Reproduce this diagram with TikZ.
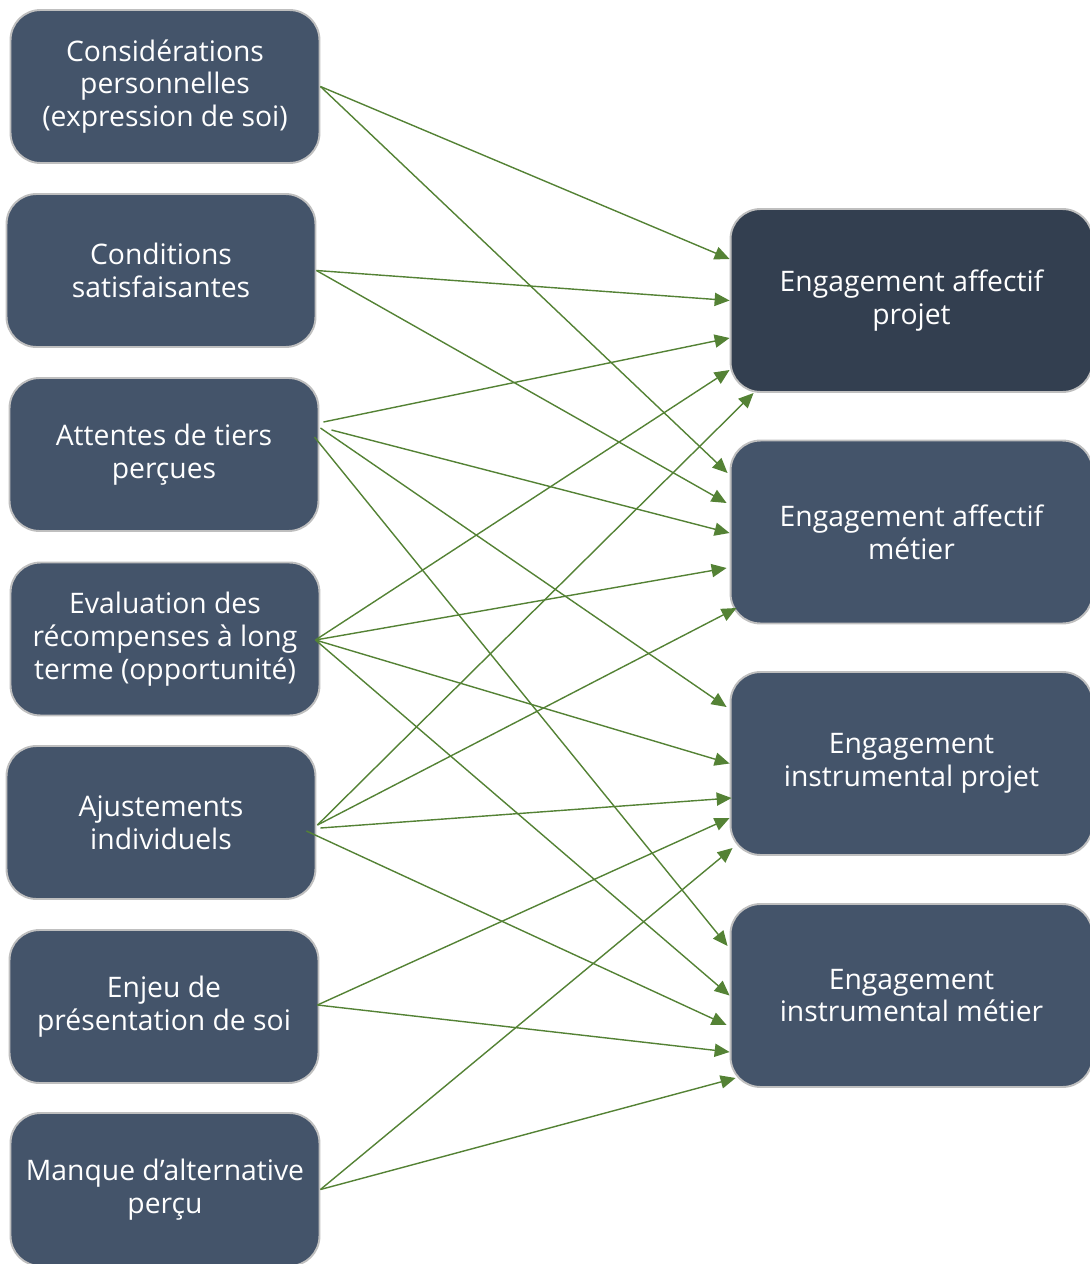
\documentclass[tikz,border=0pt]{standalone}
\usepackage{fontspec}
\setmainfont{Open Sans}
\usetikzlibrary{arrows.meta}
\definecolor{boxblue}{HTML}{44546A}
\definecolor{boxdark}{HTML}{333F50}
\definecolor{boxline}{HTML}{BFBFBF}
\definecolor{arrgreen}{HTML}{548235}
\tikzset{
  box/.style    = {draw=boxline, line width=1.1pt, rounded corners=0.6cm,
                   fill=boxblue, text=white, align=center,
                   font=\fontsize{16.1}{18.7}\selectfont},
  src/.style    = {box, minimum width=6.18cm, minimum height=3.06cm},
  tgt/.style    = {box, minimum width=7.24cm, minimum height=3.66cm},
  tgtdark/.style= {tgt, fill=boxdark},
  arr/.style    = {-{Triangle[length=8.5pt,width=7.5pt]}, draw=arrgreen,
                   line width=0.8pt}
}

\begin{document}
\begin{tikzpicture}[x=0.02cm, y=-0.02cm]
  \useasboundingbox (0,0) rectangle (1089,1264);
  % sources
  \node[src] (cons)  at (165,86.5)  {Considérations\\personnelles\\(expression de soi)};
  \node[src] (cond)  at (161,270.5) {Conditions\\satisfaisantes};
  \node[src] (att)   at (164,454.5) {Attentes de tiers\\perçues};
  \node[src] (eval)  at (165,639)   {Evaluation des\\récompenses à long\\terme (opportunité)};
  \node[src] (ajust) at (161,822.5) {Ajustements\\individuels};
  \node[src] (enjeu) at (164,1006.5){Enjeu de\\présentation de soi};
  \node[src] (manq)  at (165,1189.5){Manque d’alternative\\perçu};
  % targets
  \node[tgtdark] (affp) at (911.5,300.5) {Engagement affectif\\projet};
  \node[tgt]     (affm) at (911.5,532)   {Engagement affectif\\métier};
  \node[tgt]     (insp) at (911.5,763.5) {Engagement\\instrumental projet};
  \node[tgt]     (insm) at (911.5,995.5) {Engagement\\instrumental métier};
  % links
  \draw[arr] (cons.east) -- ([shift={(0,-41.5)}]affp.west);
  \draw[arr] (cons.east) -- ([shift={(-2,-59)}]affm.west);
  \draw[arr] (cond.east) -- (affp.west);
  \draw[arr] (cond.east) -- ([shift={(-3,-29)}]affm.west);
  \draw[arr] ([shift={(4,-32.5)}]att.east) -- ([shift={(0,37.5)}]affp.west);
  \draw[arr] ([shift={(12,-24.5)}]att.east) -- ([shift={(0,1)}]affm.west);
  \draw[arr] ([shift={(1,-26.5)}]att.east) -- ([shift={(-3,-56.5)}]insp.west);
  \draw[arr] ([shift={(-5,-17.5)}]att.east) -- ([shift={(-2,-49.5)}]insm.west);
  \draw[arr] ([shift={(-5,1)}]eval.east) -- ([shift={(0,69.5)}]affp.west);
  \draw[arr] ([shift={(-5,1)}]eval.east) -- ([shift={(-3,36)}]affm.west);
  \draw[arr] ([shift={(-5,1)}]eval.east) -- (insp.west);
  \draw[arr] ([shift={(-5,1)}]eval.east) -- (insm.west);
  \draw[arr] ([shift={(1,2.5)}]ajust.east) -- ([shift={(24,92.5)}]affp.west);
  \draw[arr] ([shift={(1,2.5)}]ajust.east) -- ([shift={(7,76)}]affm.west);
  \draw[arr] ([shift={(4,5.5)}]ajust.east) -- ([shift={(2,34.5)}]insp.west);
  \draw[arr] ([shift={(-10,8.5)}]ajust.east) -- ([shift={(-3,29.5)}]insm.west);
  \draw[arr] ([shift={(-2,-1.5)}]enjeu.east) -- ([shift={(0,54.5)}]insp.west);
  \draw[arr] ([shift={(-2,-1.5)}]enjeu.east) -- ([shift={(0,56.5)}]insm.west);
  \draw[arr] (manq.east) -- ([shift={(3,84.5)}]insp.west);
  \draw[arr] (manq.east) -- ([shift={(6,82.5)}]insm.west);
\end{tikzpicture}
\end{document}
